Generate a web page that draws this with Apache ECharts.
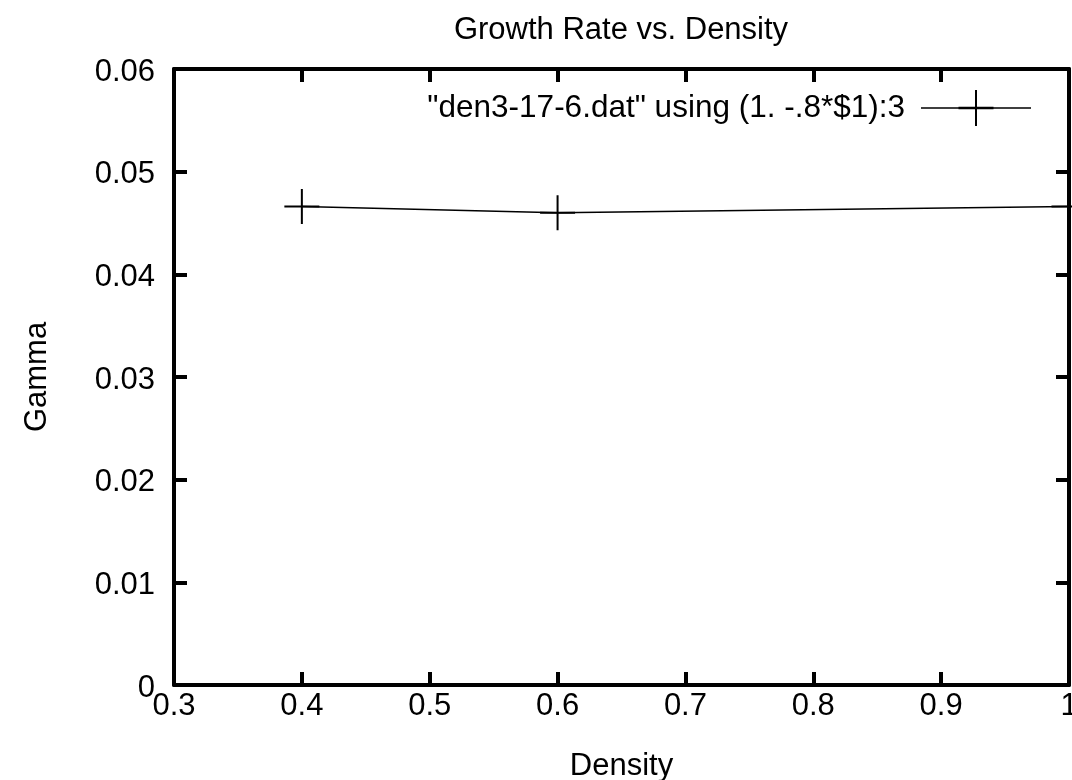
<!DOCTYPE html>
<html>
<head>
<meta charset="utf-8">
<title>Growth Rate vs. Density</title>
<script src="https://cdn.jsdelivr.net/npm/echarts@6/dist/echarts.min.js"></script>
<style>
  html, body { margin: 0; padding: 0; background: #fff; }
  #chart { width: 1072px; height: 780px; }
</style>
</head>
<body>
<div id="chart"></div>
<script>
// Measured growth rate for each density
const densities = [0.4, 0.6, 1.0];
const gammas = [0.0466, 0.0460, 0.0466];
const seriesName = '"den3-17-6.dat" using (1. -.8*$1):3';

// Axis ranges and tick steps
const xRange = [0.3, 1.0];
const xStep = 0.1;
const yRange = [0, 0.06];
const yStep = 0.01;

const FONT = '"Liberation Sans", Arial, Helvetica, sans-serif';
const FS = 31;

// Plus-shaped marker and legend key (line with a plus on it)
const plusPath = 'path://M0,16.5h35v2h-35z M16.5,0h2v35h-2z';
const legendPath = 'path://M0,17.25h110v1.5h-110z M37.5,16.75h35v2.5h-35z M54,0h2v36h-2z';

const fmt = v => String(parseFloat(v.toFixed(3)));

function frameAxis(extra) {
  return Object.assign({
    type: 'value',
    axisLine: { show: true, onZero: false, lineStyle: { color: '#000', width: 4 } },
    axisTick: { show: true, inside: true, length: 13, lineStyle: { color: '#000', width: 4 } },
    splitLine: { show: false },
    axisLabel: { show: false }
  }, extra);
}

const chart = echarts.init(document.getElementById('chart'), null, { renderer: 'canvas' });

chart.setOption({
  backgroundColor: '#fff',
  animation: false,
  textStyle: { fontFamily: FONT, color: '#000' },
  title: {
    text: 'Growth Rate vs. Density',
    left: 621,
    textAlign: 'center',
    top: 15,
    padding: 0,
    textStyle: { fontFamily: FONT, fontSize: FS, fontWeight: 'normal', color: '#000' }
  },
  legend: {
    data: [seriesName],
    right: 41,
    top: 90,
    padding: 0,
    align: 'right',
    itemWidth: 110,
    itemHeight: 36,
    icon: legendPath,
    itemStyle: { color: '#000', borderWidth: 0 },
    textStyle: { fontFamily: FONT, fontSize: 31.5, color: '#000', padding: [4, 11, 0, 0] },
    selectedMode: false
  },
  grid: { left: 174, right: 3, top: 69, bottom: 95, containLabel: false, outerBoundsMode: 'none' },
  xAxis: [
    frameAxis({
      position: 'bottom',
      min: xRange[0], max: xRange[1], interval: xStep,
      name: 'Density',
      nameLocation: 'middle',
      nameGap: 66,
      nameTextStyle: { fontFamily: FONT, fontSize: FS, color: '#000' },
      axisLabel: { show: true, margin: 6, fontFamily: FONT, fontSize: FS, color: '#000', formatter: fmt }
    }),
    frameAxis({ position: 'top', min: xRange[0], max: xRange[1], interval: xStep })
  ],
  yAxis: [
    frameAxis({
      position: 'left',
      min: yRange[0], max: yRange[1], interval: yStep,
      name: 'Gamma',
      nameLocation: 'middle',
      nameGap: 121,
      nameRotate: 90,
      nameTextStyle: { fontFamily: FONT, fontSize: FS, color: '#000' },
      axisLabel: {
        show: true, margin: 19, fontFamily: FONT, fontSize: FS, color: '#000', formatter: fmt,
        verticalAlign: 'top', lineHeight: 6
      }
    }),
    frameAxis({ position: 'right', min: yRange[0], max: yRange[1], interval: yStep })
  ],
  series: [{
    name: seriesName,
    type: 'line',
    xAxisIndex: 0,
    yAxisIndex: 0,
    data: densities.map((d, i) => [d, gammas[i]]),
    symbol: plusPath,
    symbolSize: 35,
    showSymbol: true,
    clip: true,
    lineStyle: { color: '#000', width: 1.5 },
    itemStyle: { color: '#000', borderWidth: 0 },
    emphasis: { disabled: true }
  }]
});
</script>
</body>
</html>
